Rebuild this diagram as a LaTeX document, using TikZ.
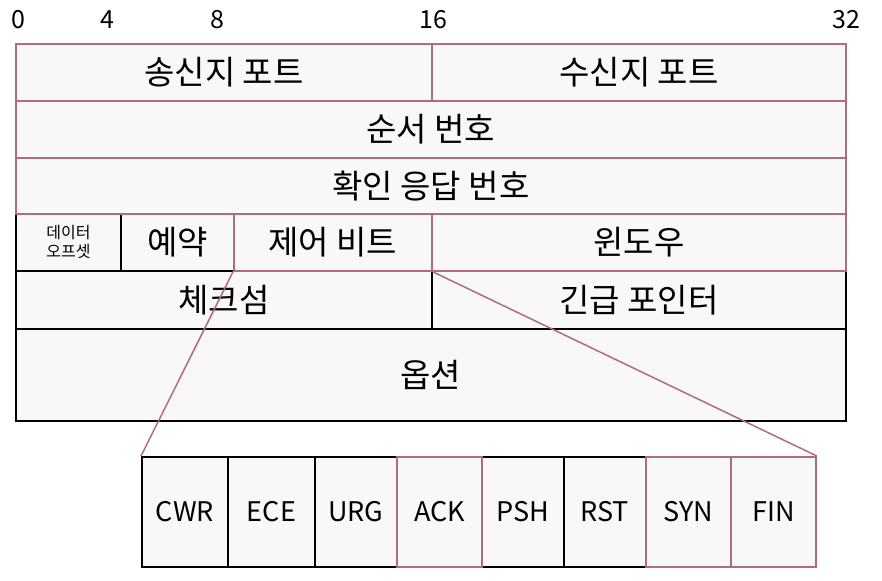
\documentclass[tikz,border=0pt]{standalone}
\usepackage{fontspec}
\setmainfont{Noto Sans CJK KR}
\definecolor{mar}{RGB}{176,108,126}
\definecolor{boxfill}{RGB}{248,248,248}
\tikzset{
  cell/.style={draw=black, fill=boxfill, line width=1.8pt, inner sep=0pt, anchor=north west, font=\fontsize{33}{36}\selectfont},
  mcell/.style={cell, draw=mar},
  flag/.style={cell, minimum height=110pt, font=\fontsize{27}{30}\selectfont},
  mflag/.style={flag, draw=mar},
  num/.style={font=\fontsize{25}{28}\selectfont, inner sep=0pt},
  link/.style={draw=mar, line width=1.5pt}
}
\begin{document}
\begin{tikzpicture}[x=1pt,y=1pt]
\useasboundingbox (0,0) rectangle (882,-580);
% bit numbers
\node[num] (n0) at (18,-20) {0};
\node[num] (n4) at (107,-20) {4};
\node[num] (n8) at (217,-20) {8};
\node[num] (n16) at (433,-20) {16};
\node[num] (n32) at (846,-20) {32};
% black cells first
\node[cell, minimum width=105pt, minimum height=57pt, font=\fontsize{16}{19}\selectfont, align=center] (off) at (15,-213) {데이터\\오프셋};
\node[cell, minimum width=113pt, minimum height=57pt] (res) at (120,-213) {예약};
\node[cell, minimum width=416pt, minimum height=58pt] (chk) at (15,-270) {체크섬};
\node[cell, minimum width=414pt, minimum height=58pt] (urg) at (431,-270) {긴급 포인터};
\node[cell, minimum width=830pt, minimum height=92pt] (opt) at (15,-328) {옵션};
% maroon cells
\node[mcell, minimum width=416pt, minimum height=57pt] (src) at (15,-43) {송신지 포트};
\node[mcell, minimum width=414pt, minimum height=57pt] (dst) at (431,-43) {수신지 포트};
\node[mcell, minimum width=830pt, minimum height=57pt] (seq) at (15,-100) {순서 번호};
\node[mcell, minimum width=830pt, minimum height=56pt] (ackn) at (15,-157) {확인 응답 번호};
\node[mcell, minimum width=198pt, minimum height=57pt] (ctl) at (233,-213) {제어 비트};
\node[mcell, minimum width=414pt, minimum height=57pt] (win) at (431,-213) {윈도우};
% flags
\node[flag, minimum width=86pt] (cwr) at (141,-456) {CWR};
\node[flag, minimum width=87pt] (ece) at (227,-456) {ECE};
\node[flag, minimum width=82pt] (urgf) at (314,-456) {URG};
\node[flag, minimum width=82pt] (psh) at (481,-456) {PSH};
\node[flag, minimum width=82pt] (rst) at (563,-456) {RST};
\node[mflag, minimum width=85pt] (ackf) at (396,-456) {ACK};
\node[mflag, minimum width=85pt] (syn) at (645,-456) {SYN};
\node[mflag, minimum width=85pt] (fin) at (730,-456) {FIN};
% zoom lines
\draw[link] (ctl.south west) -- (cwr.north west);
\draw[link] (ctl.south east) -- (fin.north east);
\end{tikzpicture}
\end{document}
